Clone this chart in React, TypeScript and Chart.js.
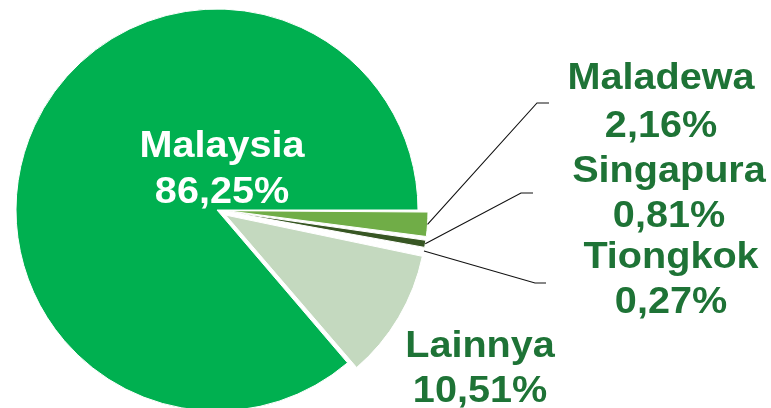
import React, { useEffect, useRef } from "react";
import { Chart, registerables } from "chart.js";

Chart.register(...registerables);

const categories = ["Maladewa", "Singapura", "Tiongkok", "Lainnya", "Malaysia"];
const shares = [2.16, 0.81, 0.27, 10.51, 86.25];
const sliceColors = ["#70ad47", "#375623", "#a9d18e", "#c4d9bf", "#00b050"];
// desired outward shift of each slice, in pixels
const explodePx = [10, 10, 10, 10, 0];

const PIE_RADIUS = 201;
const TEXT_DARK = "#1e7336";
const FONT = 'bold 37px "Liberation Sans", Arial, sans-serif';
const X_STRETCH = 1.07;

// label layout: center x, baseline of first line, baseline of second line, colour
const labelLayout = [
  { x: 661, y1: 89, y2: 137, color: TEXT_DARK },
  { x: 669, y1: 182, y2: 227, color: TEXT_DARK },
  { x: 671, y1: 268, y2: 313, color: TEXT_DARK },
  { x: 480, y1: 357, y2: 402, color: TEXT_DARK },
  { x: 222, y1: 157, y2: 203, color: "#ffffff" },
];

// leader line elbows: [elbowX, elbowY, endX]
const leaderElbows: (number[] | null)[] = [
  [537, 103, 549],
  [521, 193, 533],
  [535, 283, 546],
  null,
  null,
];

const fmtPct = (v: number) => v.toFixed(2).replace(".", ",") + "%";

// Chart.js translates an arc by offset/4 and grows its radius by (offset/4)*fix;
// keep the radius constant so only the translation remains.
const radiusFixPlugin = {
  id: "radiusFix",
  afterDatasetUpdate(chart: any, args: any) {
    if (args.index !== 0) return;
    const meta = chart.getDatasetMeta(0);
    meta.data.forEach((arc: any, i: number) => {
      const shift = explodePx[i] || 0;
      const circ = arc.circumference || 0;
      const fix = 1 - Math.sin(Math.min(Math.PI, circ));
      arc.outerRadius = PIE_RADIUS - shift * fix;
    });
  },
};

const labelPlugin = {
  id: "pieLabels",
  afterDatasetsDraw(chart: any) {
    const ctx = chart.ctx as CanvasRenderingContext2D;
    const meta = chart.getDatasetMeta(0);
    ctx.save();
    meta.data.forEach((arc: any, i: number) => {
      const elbow = leaderElbows[i];
      if (elbow) {
        const mid = (arc.startAngle + arc.endAngle) / 2;
        const r = PIE_RADIUS + (explodePx[i] || 0);
        const sx = arc.x + Math.cos(mid) * r;
        const sy = arc.y + Math.sin(mid) * r;
        ctx.beginPath();
        ctx.strokeStyle = "#111111";
        ctx.lineWidth = 1.1;
        ctx.moveTo(sx, sy);
        ctx.lineTo(elbow[0], elbow[1]);
        ctx.lineTo(elbow[2], elbow[1]);
        ctx.stroke();
      }
      const L = labelLayout[i];
      ctx.font = FONT;
      ctx.textAlign = "center";
      ctx.textBaseline = "alphabetic";
      ctx.fillStyle = L.color;
      const lines = [categories[i], fmtPct(shares[i])];
      const ys = [L.y1, L.y2];
      lines.forEach((t, k) => {
        ctx.save();
        ctx.translate(L.x, ys[k]);
        ctx.scale(X_STRETCH, 1);
        ctx.fillText(t, 0, 0);
        ctx.restore();
      });
    });
    ctx.restore();
  },
};

export default function App() {
  const ref = useRef<HTMLCanvasElement | null>(null);
  useEffect(() => {
    if (!ref.current) return;
    const chart = new Chart(ref.current, {
      type: "pie",
      data: {
        labels: categories,
        datasets: [
          {
            data: shares,
            backgroundColor: sliceColors,
            borderColor: "#ffffff",
            borderWidth: 1,
            offset: explodePx.map((p) => p * 4),
            hoverOffset: 0,
            radius: PIE_RADIUS,
          } as any,
        ],
      },
      options: {
        responsive: false,
        animation: false,
        rotation: 90,
        layout: { padding: { left: 0, right: 337, top: 12, bottom: 0 } },
        plugins: {
          legend: { display: false },
          tooltip: { enabled: false },
        },
      },
      plugins: [radiusFixPlugin, labelPlugin],
    });
    return () => chart.destroy();
  }, []);
  return (
    <div style={{ position: "absolute", left: 0, top: 0, width: 771, height: 408, background: "#ffffff" }}>
      <canvas ref={ref} width={771} height={408} style={{ display: "block" }} />
    </div>
  );
}
